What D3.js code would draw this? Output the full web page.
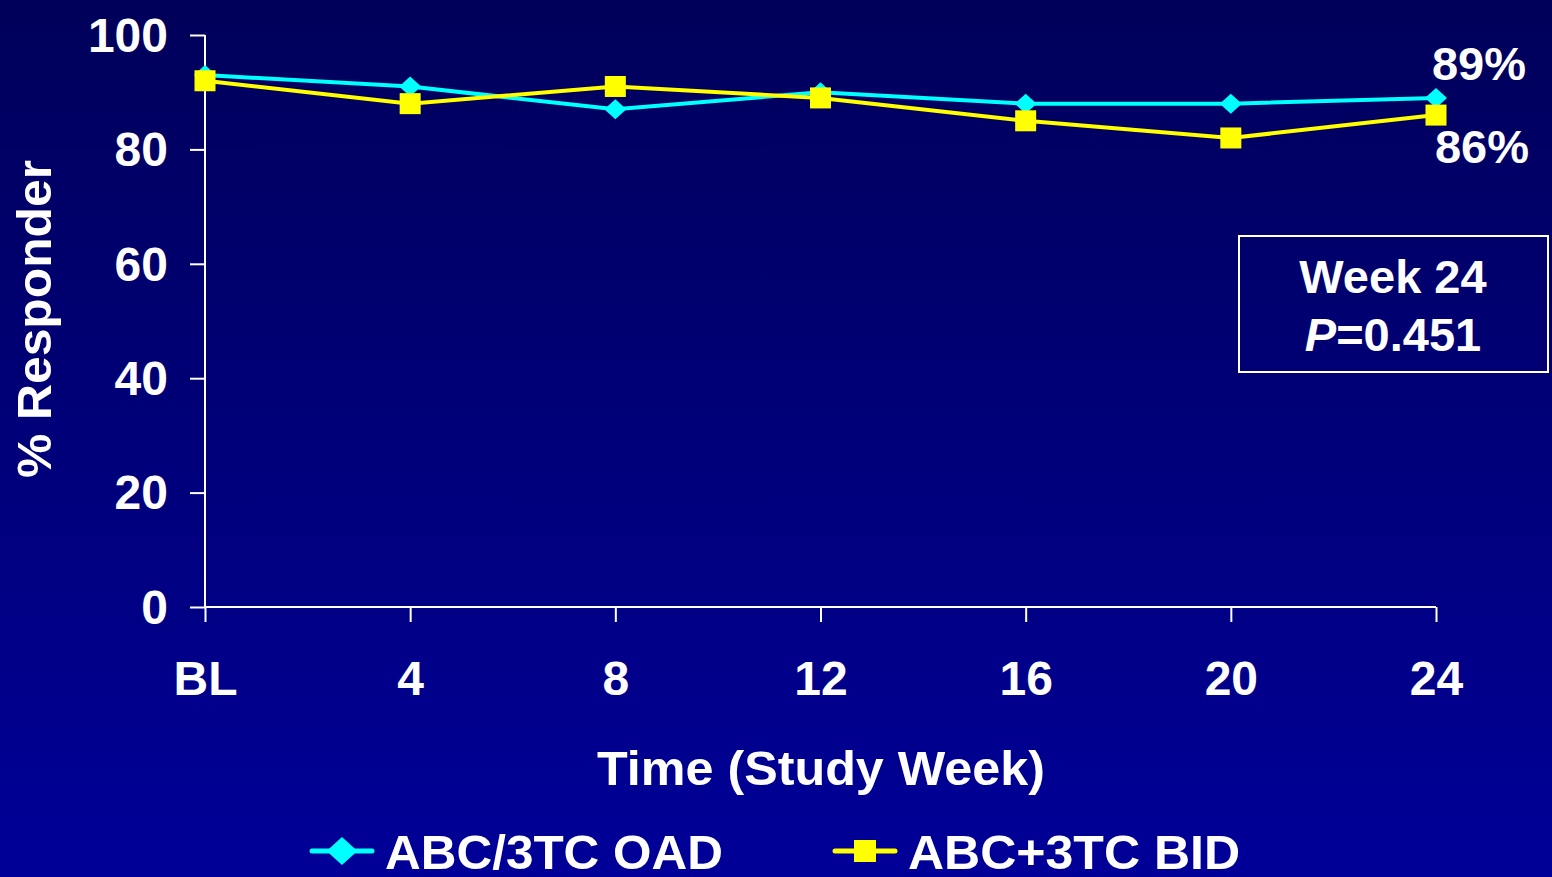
<!DOCTYPE html>
<html><head><meta charset="utf-8">
<script src="https://cdn.jsdelivr.net/npm/d3@7"></script>
<style>html,body{margin:0;padding:0;overflow:hidden;background:#000070}</style>
</head><body>
<script>
const weeks = [0, 4, 8, 12, 16, 20, 24];
const weekLabels = ["BL", "4", "8", "12", "16", "20", "24"];
const oadValues = [93, 91, 87, 90, 88, 88, 89];
const bidValues = [92, 88, 91, 89, 85, 82, 86];
const yTicks = [0, 20, 40, 60, 80, 100];
const seriesNames = ["ABC/3TC OAD", "ABC+3TC BID"];

const W = 1552, H = 877;
const svg = d3.select("body").append("svg").attr("width", W).attr("height", H);
const defs = svg.append("defs");
const grad = defs.append("linearGradient").attr("id", "bg").attr("x1", 0).attr("y1", 0).attr("x2", 0).attr("y2", 1);
grad.append("stop").attr("offset", "0%").attr("stop-color", "#00005a");
grad.append("stop").attr("offset", "100%").attr("stop-color", "#000098");
svg.append("rect").attr("width", W).attr("height", H).attr("fill", "url(#bg)");

const font = "'Liberation Sans', Arial, sans-serif";
const x = d3.scaleLinear().domain([0, 24]).range([205, 1436]);
const y = d3.scaleLinear().domain([0, 100]).range([607, 35]);

// axes
const yAxis = d3.axisLeft(y).tickValues(yTicks).tickSize(15).tickPadding(22).tickFormat(d3.format("d"));
const gy = svg.append("g").attr("transform", "translate(205,0)").call(yAxis);
const xAxis = d3.axisBottom(x).tickValues(weeks).tickSize(15).tickPadding(38).tickFormat((d, i) => weekLabels[i]);
const gx = svg.append("g").attr("transform", "translate(0,607)").call(xAxis);
[gx, gy].forEach(g => {
  g.select(".domain").attr("stroke", "#fff").attr("stroke-width", 2);
  g.selectAll(".tick line").attr("stroke", "#fff").attr("stroke-width", 2);
  g.selectAll(".tick text").attr("fill", "#fff").attr("font-family", font)
    .attr("font-weight", "bold").attr("font-size", 48);
});
gy.select(".domain").attr("d", "M0,607V35");
gx.select(".domain").attr("d", "M205,0H1436");
gy.selectAll(".tick text").attr("dy", "0.34em");
gx.selectAll(".tick text").attr("dy", "0.72em");

// titles
svg.append("text").attr("x", 821).attr("y", 785).attr("text-anchor", "middle")
  .attr("fill", "#fff").attr("font-family", font).attr("font-weight", "bold").attr("font-size", 49)
  .attr("textLength", 448).attr("lengthAdjust", "spacingAndGlyphs")
  .text("Time (Study Week)");
svg.append("text").attr("transform", "translate(51,319) rotate(-90)").attr("text-anchor", "middle")
  .attr("fill", "#fff").attr("font-family", font).attr("font-weight", "bold").attr("font-size", 49)
  .attr("textLength", 318).attr("lengthAdjust", "spacingAndGlyphs")
  .text("% Responder");

// lines
const line = d3.line().x((d, i) => x(weeks[i])).y(d => y(d));
svg.append("path").datum(oadValues).attr("d", line).attr("fill", "none").attr("stroke", "#00ffff").attr("stroke-width", 4);
svg.append("path").datum(bidValues).attr("d", line).attr("fill", "none").attr("stroke", "#ffff00").attr("stroke-width", 4);

const diamond = (cx, cy, s) => `M${cx},${cy - s * 0.5}L${cx + s * 0.55},${cy}L${cx},${cy + s * 0.5}L${cx - s * 0.55},${cy}Z`;
svg.append("g").selectAll("path").data(oadValues).join("path")
  .attr("d", (d, i) => diamond(x(weeks[i]), y(d), 20)).attr("fill", "#00ffff");
svg.append("g").selectAll("rect").data(bidValues).join("rect")
  .attr("x", (d, i) => x(weeks[i]) - 10.5).attr("y", d => y(d) - 10.5)
  .attr("width", 21).attr("height", 21).attr("fill", "#ffff00");

// end labels
svg.append("text").attr("x", 1479).attr("y", 80).attr("text-anchor", "middle").attr("fill", "#fff")
  .attr("font-family", font).attr("font-weight", "bold").attr("font-size", 47).text(oadValues[6] + "%");
svg.append("text").attr("x", 1482).attr("y", 163).attr("text-anchor", "middle").attr("fill", "#fff")
  .attr("font-family", font).attr("font-weight", "bold").attr("font-size", 47).text(bidValues[6] + "%");

// p-value box
svg.append("rect").attr("x", 1239).attr("y", 236).attr("width", 309).attr("height", 136)
  .attr("fill", "none").attr("stroke", "#fff").attr("stroke-width", 2);
svg.append("text").attr("x", 1393).attr("y", 293).attr("text-anchor", "middle").attr("fill", "#fff")
  .attr("font-family", font).attr("font-weight", "bold").attr("font-size", 47).text("Week 24");
const pt = svg.append("text").attr("x", 1393).attr("y", 351).attr("text-anchor", "middle").attr("fill", "#fff")
  .attr("font-family", font).attr("font-weight", "bold").attr("font-size", 47);
pt.append("tspan").attr("font-style", "italic").text("P");
pt.append("tspan").text("=0.451");

// legend
const leg = svg.append("g");
leg.append("line").attr("x1", 312).attr("x2", 372).attr("y1", 851).attr("y2", 851).attr("stroke", "#00ffff").attr("stroke-width", 5).attr("stroke-linecap", "round");
leg.append("path").attr("d", diamond(342, 851, 28)).attr("fill", "#00ffff");
leg.append("text").attr("x", 385).attr("y", 869).attr("fill", "#fff").attr("font-family", font)
  .attr("font-weight", "bold").attr("font-size", 48).attr("textLength", 338).attr("lengthAdjust", "spacingAndGlyphs").text(seriesNames[0]);
leg.append("line").attr("x1", 835).attr("x2", 895).attr("y1", 851).attr("y2", 851).attr("stroke", "#ffff00").attr("stroke-width", 5).attr("stroke-linecap", "round");
leg.append("rect").attr("x", 854).attr("y", 840).attr("width", 22).attr("height", 22).attr("fill", "#ffff00");
leg.append("text").attr("x", 908).attr("y", 869).attr("fill", "#fff").attr("font-family", font)
  .attr("font-weight", "bold").attr("font-size", 48).attr("textLength", 332).attr("lengthAdjust", "spacingAndGlyphs").text(seriesNames[1]);
</script>
</body></html>
